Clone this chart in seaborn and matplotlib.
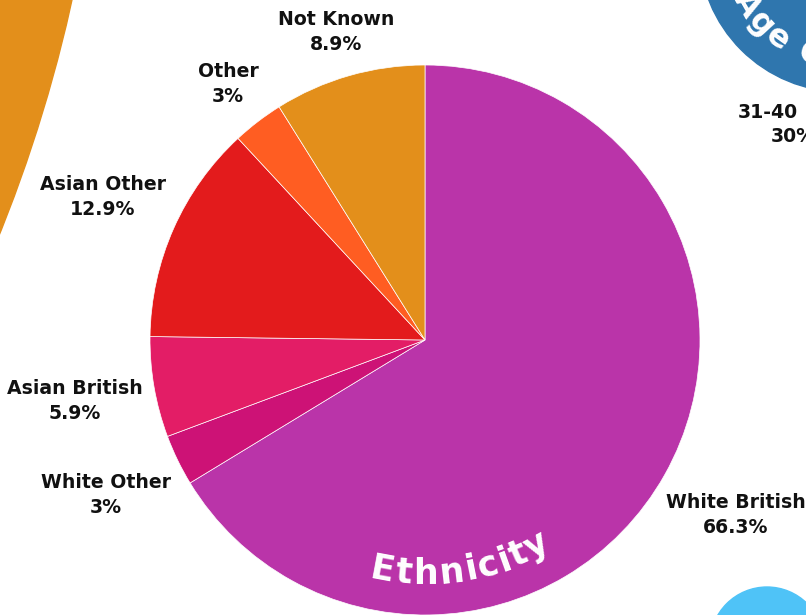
import numpy as np
import matplotlib
matplotlib.use("Agg")
import matplotlib.pyplot as plt
import seaborn as sns
from matplotlib.patches import Circle

sns.set_theme(style="white")
plt.rcParams["font.family"] = ["DejaVu Sans"]

# ---- data ----
categories = ["White British", "White Other", "Asian British", "Asian Other", "Other", "Not Known"]
values = [66.3, 3, 5.9, 12.9, 3, 8.9]
value_labels = ["66.3%", "3%", "5.9%", "12.9%", "3%", "8.9%"]
colors = ["#BA34A9", "#CD1276", "#E31D66", "#E31B1C", "#FF5D22", "#E38F1B"]

W, H = 806, 615
fig = plt.figure(figsize=(W / 100, H / 100), dpi=100)
ax = fig.add_axes([0, 0, 1, 1])

# background decorations
ax.add_patch(Circle((-1362, H + 315.5), 1468.3, color="#E38F1B", zorder=0))
ax.add_patch(Circle((843, H + 52), 144, color="#2F76AE", zorder=0))
ax.add_patch(Circle((767, H - 644), 57, color="#4FC3F7", zorder=0))

pie_c = (425, H - 340)
pie_r = 275
ax.pie(values, colors=colors, startangle=90, counterclock=False,
       center=pie_c, radius=pie_r,
       wedgeprops=dict(edgecolor="white", linewidth=0.5))

ax.set_xlim(0, W)
ax.set_ylim(0, H)
ax.set_aspect("equal")
ax.axis("off")

# label anchors (pixel coords of text centre, y measured from top)
label_pos = {
    "White British": (736, 515),
    "White Other": (106, 495),
    "Asian British": (75, 401),
    "Asian Other": (103, 197),
    "Other": (228, 84),
    "Not Known": (336, 32),
}
for cat, val in zip(categories, value_labels):
    x, y = label_pos[cat]
    ax.text(x, H - y, f"{cat}\n{val}", ha="center", va="center",
            fontsize=13.6, fontweight="bold", color="#111111",
            linespacing=1.42, zorder=5)

# partial label on the right (cut by the edge)
ax.text(738, H - 112, "31-40", ha="left", va="center", fontsize=13.6,
        fontweight="bold", color="#111111", zorder=5)
ax.text(771, H - 137, "30%", ha="left", va="center", fontsize=13.6,
        fontweight="bold", color="#111111", zorder=5)

fig.canvas.draw()
renderer = fig.canvas.get_renderer()


def char_widths(text, fontsize):
    ws = []
    for ch in text:
        t = ax.text(0, 0, ch if ch != " " else "n", fontsize=fontsize, fontweight="bold")
        bb = t.get_window_extent(renderer=renderer)
        w = bb.width * (0.6 if ch == " " else 1.0)
        ws.append(w)
        t.remove()
    return ws


def curved_text(text, center, r, theta_first, fontsize, color, spacing=1.0):
    ws = char_widths(text, fontsize)
    cx, cy = center
    ang = np.radians(theta_first)
    pos = 0.0
    for i, ch in enumerate(text):
        if i > 0:
            pos += (ws[i - 1] / 2 + ws[i] / 2) * spacing
        a = ang + pos / r
        x = cx + r * np.cos(a)
        y = cy + r * np.sin(a)
        if ch != " ":
            ax.text(x, y, ch, fontsize=fontsize, fontweight="bold", color=color,
                    rotation=np.degrees(a) + 90, rotation_mode="anchor",
                    ha="center", va="center", zorder=6)


curved_text("Ethnicity", pie_c, 234, -100.5, 25, "white", spacing=1.06)
curved_text("Age Group", (843, H + 52), 112, -150, 23, "white", spacing=1.02)

fig.savefig("out.png", dpi=100)
